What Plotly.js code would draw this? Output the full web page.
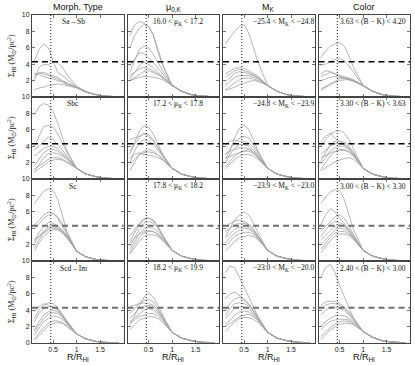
<!DOCTYPE html>
<html>
<head>
<meta charset="utf-8">
<script src="https://cdn.plot.ly/plotly-3.0.1.min.js"></script>
<style>
  body { margin: 0; background: #fff; }
  #chart { width: 415px; height: 365px; }
</style>
</head>
<body>
<div id="chart"></div>
<script>
// radius grid (R/R_HI) shared by all profiles
const xR = [0.1, 0.2, 0.3, 0.4, 0.5, 0.6, 0.7, 0.8, 1.0, 1.2, 1.4, 1.6, 1.9];

// column 1: morphological type
const typeSaSb = [
  [4.4, 5.8, 6.5, 6.0, 4.3, 3.0, 2.6, 2.1, 1.2, 0.6, 0.3, 0.12, 0.03],
  [2.0, 3.6, 4.0, 3.9, 4.3, 4.2, 3.6, 2.7, 1.3, 0.7, 0.3, 0.12, 0.03],
  [2.4, 3.0, 3.0, 2.8, 2.6, 2.4, 2.0, 1.7, 1.2, 0.6, 0.3, 0.1, 0.03],
  [2.7, 2.9, 2.8, 2.6, 2.4, 2.2, 1.9, 1.6, 1.2, 0.6, 0.3, 0.1, 0.03],
  [2.9, 2.7, 2.5, 2.3, 2.2, 2.0, 1.8, 1.5, 1.2, 0.6, 0.3, 0.1, 0.03],
  [0.9, 1.1, 1.2, 1.4, 1.5, 1.6, 1.5, 1.4, 1.1, 0.6, 0.3, 0.1, 0.03]
];
const typeSbc = [
  [7.8, 8.8, 9.2, 9.0, 8.2, 6.8, 5.0, 3.4, 1.3, 0.6, 0.3, 0.12, 0.03],
  [4.0, 5.2, 6.4, 6.5, 6.3, 5.5, 4.3, 3.2, 1.3, 0.6, 0.3, 0.12, 0.03],
  [3.6, 4.0, 4.6, 5.1, 4.8, 4.2, 3.5, 2.8, 1.3, 0.6, 0.3, 0.1, 0.03],
  [2.8, 3.3, 3.7, 4.0, 4.0, 3.7, 3.2, 2.6, 1.3, 0.6, 0.3, 0.1, 0.03],
  [1.6, 2.4, 3.2, 3.6, 3.6, 3.4, 3.0, 2.5, 1.3, 0.6, 0.3, 0.1, 0.03],
  [1.0, 1.8, 2.6, 3.1, 3.2, 3.1, 2.8, 2.4, 1.3, 0.6, 0.3, 0.1, 0.03],
  [1.2, 1.6, 2.0, 2.4, 2.6, 2.6, 2.4, 2.1, 1.3, 0.6, 0.3, 0.1, 0.03],
  [0.8, 1.2, 1.7, 2.1, 2.3, 2.4, 2.3, 2.0, 1.3, 0.6, 0.3, 0.1, 0.03]
];
const typeSc = [
  [7.0, 7.8, 8.5, 8.8, 8.6, 7.5, 5.5, 3.5, 1.2, 0.5, 0.2, 0.08, 0.02],
  [4.4, 5.0, 5.6, 6.0, 5.8, 5.2, 4.2, 3.2, 1.2, 0.5, 0.2, 0.08, 0.02],
  [3.9, 4.6, 5.2, 5.6, 5.8, 5.4, 4.5, 3.4, 1.2, 0.5, 0.2, 0.08, 0.02],
  [2.4, 3.5, 4.2, 4.7, 4.6, 4.3, 3.7, 3.0, 1.2, 0.5, 0.2, 0.08, 0.02],
  [2.2, 3.0, 3.7, 4.2, 4.4, 4.2, 3.7, 3.0, 1.2, 0.5, 0.2, 0.08, 0.02],
  [1.6, 2.6, 3.5, 4.0, 4.2, 4.0, 3.6, 2.9, 1.2, 0.5, 0.2, 0.08, 0.02],
  [2.6, 3.0, 3.4, 3.8, 4.0, 3.9, 3.5, 2.8, 1.2, 0.5, 0.2, 0.08, 0.02],
  [1.2, 2.2, 3.0, 3.5, 3.8, 3.8, 3.4, 2.8, 1.2, 0.5, 0.2, 0.08, 0.02]
];
const typeScdIm = [
  [3.0, 4.0, 4.6, 4.9, 4.8, 4.3, 3.5, 2.6, 1.1, 0.5, 0.2, 0.08, 0.02],
  [3.8, 4.4, 4.8, 4.6, 4.4, 4.0, 3.3, 2.5, 1.1, 0.5, 0.2, 0.08, 0.02],
  [2.6, 3.6, 4.2, 4.4, 4.4, 4.1, 3.4, 2.6, 1.1, 0.5, 0.2, 0.08, 0.02],
  [1.6, 2.6, 3.4, 3.8, 4.0, 3.8, 3.2, 2.5, 1.1, 0.5, 0.2, 0.08, 0.02],
  [1.4, 2.2, 3.0, 3.5, 3.7, 3.6, 3.1, 2.4, 1.1, 0.5, 0.2, 0.08, 0.02],
  [1.0, 1.8, 2.6, 3.0, 3.3, 3.2, 2.9, 2.3, 1.1, 0.5, 0.2, 0.08, 0.02],
  [0.5, 1.2, 1.9, 2.4, 2.7, 2.7, 2.5, 2.1, 1.1, 0.5, 0.2, 0.08, 0.02],
  [0.3, 0.9, 1.6, 2.1, 2.4, 2.5, 2.4, 2.0, 1.1, 0.5, 0.2, 0.08, 0.02]
];

// column 2: central K surface brightness
const mu1 = [
  [7.5, 8.8, 9.2, 9.0, 8.6, 7.5, 5.5, 3.8, 1.4, 0.7, 0.3, 0.12, 0.03],
  [6.0, 7.5, 8.4, 8.8, 8.6, 7.6, 5.8, 4.0, 1.4, 0.7, 0.3, 0.12, 0.03],
  [3.0, 4.5, 5.8, 6.2, 6.0, 5.2, 4.2, 3.2, 1.4, 0.7, 0.3, 0.12, 0.03],
  [3.8, 4.6, 5.4, 5.3, 4.8, 4.2, 3.5, 2.8, 1.4, 0.7, 0.3, 0.12, 0.03],
  [2.2, 3.0, 3.8, 4.3, 4.0, 3.6, 3.0, 2.5, 1.4, 0.7, 0.3, 0.12, 0.03],
  [2.6, 3.0, 3.4, 3.6, 3.5, 3.2, 2.8, 2.4, 1.4, 0.7, 0.3, 0.12, 0.03],
  [2.0, 2.4, 2.8, 3.1, 3.2, 3.0, 2.7, 2.3, 1.4, 0.7, 0.3, 0.12, 0.03],
  [2.0, 2.2, 2.4, 2.5, 2.5, 2.4, 2.3, 2.1, 1.4, 0.7, 0.3, 0.12, 0.03]
];
const mu2 = [
  [3.0, 4.4, 5.8, 6.5, 6.3, 5.5, 4.2, 3.0, 1.3, 0.6, 0.3, 0.1, 0.03],
  [4.8, 5.0, 5.2, 5.5, 5.4, 4.8, 3.9, 2.9, 1.3, 0.6, 0.3, 0.1, 0.03],
  [3.4, 4.2, 5.0, 5.6, 5.2, 4.6, 3.8, 2.9, 1.3, 0.6, 0.3, 0.1, 0.03],
  [2.0, 3.4, 4.4, 4.8, 4.6, 4.2, 3.5, 2.8, 1.3, 0.6, 0.3, 0.1, 0.03],
  [1.0, 2.0, 3.0, 3.4, 3.6, 3.4, 3.0, 2.5, 1.3, 0.6, 0.3, 0.1, 0.03],
  [1.8, 2.4, 3.0, 3.2, 3.3, 3.2, 2.9, 2.4, 1.3, 0.6, 0.3, 0.1, 0.03],
  [2.6, 3.0, 3.2, 3.0, 2.9, 2.8, 2.6, 2.3, 1.3, 0.6, 0.3, 0.1, 0.03]
];
const mu3 = [
  [3.0, 3.8, 4.6, 5.2, 5.3, 5.0, 4.2, 3.2, 1.3, 0.6, 0.3, 0.1, 0.03],
  [2.4, 3.4, 4.4, 5.0, 5.2, 4.9, 4.1, 3.1, 1.3, 0.6, 0.3, 0.1, 0.03],
  [1.8, 2.8, 3.8, 4.6, 4.8, 4.6, 4.0, 3.0, 1.3, 0.6, 0.3, 0.1, 0.03],
  [1.4, 2.4, 3.3, 3.9, 4.1, 4.0, 3.6, 2.9, 1.3, 0.6, 0.3, 0.1, 0.03],
  [1.0, 2.0, 2.8, 3.4, 3.6, 3.6, 3.3, 2.7, 1.3, 0.6, 0.3, 0.1, 0.03],
  [2.2, 2.8, 3.2, 3.6, 3.7, 3.6, 3.2, 2.6, 1.3, 0.6, 0.3, 0.1, 0.03],
  [0.8, 1.6, 2.4, 3.0, 3.2, 3.2, 3.0, 2.5, 1.3, 0.6, 0.3, 0.1, 0.03]
];
const mu4 = [
  [2.2, 3.4, 4.6, 5.6, 6.1, 5.6, 4.6, 3.4, 1.3, 0.6, 0.3, 0.1, 0.03],
  [3.6, 4.2, 4.8, 5.2, 5.3, 5.0, 4.2, 3.2, 1.3, 0.6, 0.3, 0.1, 0.03],
  [4.4, 4.6, 4.8, 4.9, 4.8, 4.6, 4.0, 3.1, 1.3, 0.6, 0.3, 0.1, 0.03],
  [3.0, 3.6, 4.2, 4.5, 4.6, 4.4, 3.8, 3.0, 1.3, 0.6, 0.3, 0.1, 0.03],
  [2.6, 3.0, 3.5, 4.0, 4.2, 4.0, 3.6, 2.9, 1.3, 0.6, 0.3, 0.1, 0.03],
  [2.4, 2.8, 3.2, 3.4, 3.6, 3.6, 3.3, 2.7, 1.3, 0.6, 0.3, 0.1, 0.03],
  [1.6, 2.2, 2.8, 3.0, 3.2, 3.2, 3.0, 2.5, 1.3, 0.6, 0.3, 0.1, 0.03]
];

// column 3: K absolute magnitude
const mk1 = [
  [6.5, 7.3, 8.0, 8.6, 8.8, 7.8, 6.0, 4.2, 1.4, 0.7, 0.3, 0.12, 0.03],
  [2.8, 3.2, 3.5, 3.6, 3.5, 3.2, 2.9, 2.5, 1.4, 0.7, 0.3, 0.12, 0.03],
  [2.4, 2.8, 3.2, 3.4, 3.2, 3.0, 2.7, 2.4, 1.4, 0.7, 0.3, 0.12, 0.03],
  [1.8, 2.4, 2.9, 3.1, 3.0, 2.8, 2.6, 2.3, 1.4, 0.7, 0.3, 0.12, 0.03],
  [1.4, 1.9, 2.4, 2.6, 2.6, 2.6, 2.4, 2.2, 1.4, 0.7, 0.3, 0.12, 0.03],
  [0.9, 1.3, 1.8, 2.1, 2.3, 2.3, 2.2, 2.0, 1.4, 0.7, 0.3, 0.12, 0.03],
  [0.8, 1.0, 1.2, 1.5, 1.7, 1.9, 2.0, 1.9, 1.4, 0.7, 0.3, 0.12, 0.03]
];
const mk2 = [
  [2.4, 3.5, 5.0, 6.2, 6.6, 6.0, 4.8, 3.4, 1.3, 0.6, 0.3, 0.1, 0.03],
  [3.0, 3.6, 4.4, 5.0, 5.2, 5.0, 4.2, 3.2, 1.3, 0.6, 0.3, 0.1, 0.03],
  [4.2, 4.6, 4.8, 4.6, 4.6, 4.4, 3.8, 3.0, 1.3, 0.6, 0.3, 0.1, 0.03],
  [2.0, 3.0, 3.8, 4.2, 4.2, 4.0, 3.5, 2.8, 1.3, 0.6, 0.3, 0.1, 0.03],
  [3.0, 3.4, 3.6, 3.8, 3.8, 3.7, 3.3, 2.7, 1.3, 0.6, 0.3, 0.1, 0.03],
  [1.5, 2.2, 2.8, 3.2, 3.4, 3.4, 3.1, 2.6, 1.3, 0.6, 0.3, 0.1, 0.03],
  [1.2, 1.8, 2.4, 2.8, 3.0, 3.0, 2.8, 2.4, 1.3, 0.6, 0.3, 0.1, 0.03],
  [2.6, 2.8, 3.0, 3.2, 3.4, 3.6, 3.2, 2.6, 1.3, 0.6, 0.3, 0.1, 0.03]
];
const mk3 = [
  [3.0, 4.0, 5.0, 5.6, 6.0, 5.6, 4.6, 3.4, 1.3, 0.6, 0.3, 0.1, 0.03],
  [4.2, 4.6, 4.9, 5.0, 4.8, 4.5, 3.9, 3.0, 1.3, 0.6, 0.3, 0.1, 0.03],
  [3.6, 4.0, 4.4, 4.6, 4.6, 4.4, 3.8, 3.0, 1.3, 0.6, 0.3, 0.1, 0.03],
  [2.8, 3.4, 3.9, 4.1, 4.3, 4.1, 3.6, 2.9, 1.3, 0.6, 0.3, 0.1, 0.03],
  [2.2, 2.9, 3.4, 3.8, 4.0, 3.9, 3.5, 2.8, 1.3, 0.6, 0.3, 0.1, 0.03],
  [1.8, 2.4, 3.0, 3.3, 3.5, 3.5, 3.3, 2.7, 1.3, 0.6, 0.3, 0.1, 0.03],
  [1.2, 1.8, 2.4, 2.8, 3.0, 3.1, 3.0, 2.6, 1.3, 0.6, 0.3, 0.1, 0.03]
];
const mk4 = [
  [8.6, 9.4, 9.2, 8.0, 6.8, 5.4, 4.2, 3.2, 1.3, 0.6, 0.3, 0.1, 0.03],
  [5.4, 6.0, 6.2, 5.8, 5.4, 4.8, 4.0, 3.1, 1.3, 0.6, 0.3, 0.1, 0.03],
  [4.0, 4.8, 5.4, 5.6, 5.2, 4.7, 3.9, 3.0, 1.3, 0.6, 0.3, 0.1, 0.03],
  [3.4, 4.2, 4.8, 4.9, 4.8, 4.5, 3.8, 3.0, 1.3, 0.6, 0.3, 0.1, 0.03],
  [3.0, 3.6, 4.2, 4.4, 4.4, 4.2, 3.6, 2.9, 1.3, 0.6, 0.3, 0.1, 0.03],
  [2.2, 2.8, 3.4, 3.8, 3.9, 3.8, 3.4, 2.8, 1.3, 0.6, 0.3, 0.1, 0.03],
  [2.0, 2.4, 2.8, 3.2, 3.4, 3.5, 3.2, 2.7, 1.3, 0.6, 0.3, 0.1, 0.03],
  [1.4, 2.0, 2.6, 3.0, 3.1, 3.1, 2.9, 2.5, 1.3, 0.6, 0.3, 0.1, 0.03]
];

// column 4: B-K colour
const bk1 = [
  [4.8, 5.6, 6.2, 6.5, 6.6, 6.2, 5.0, 3.6, 1.4, 0.7, 0.3, 0.12, 0.03],
  [3.9, 4.0, 4.3, 4.6, 4.7, 4.4, 3.8, 3.0, 1.4, 0.7, 0.3, 0.12, 0.03],
  [2.8, 3.2, 3.1, 2.8, 2.6, 2.5, 2.3, 2.1, 1.4, 0.7, 0.3, 0.12, 0.03],
  [2.5, 2.8, 3.0, 2.8, 2.5, 2.3, 2.2, 2.0, 1.4, 0.7, 0.3, 0.12, 0.03],
  [2.0, 2.2, 2.4, 2.5, 2.4, 2.3, 2.1, 1.9, 1.4, 0.7, 0.3, 0.12, 0.03],
  [1.0, 1.3, 1.7, 2.0, 2.2, 2.3, 2.2, 2.0, 1.4, 0.7, 0.3, 0.12, 0.03],
  [0.8, 1.2, 1.5, 1.8, 2.0, 2.1, 2.1, 1.9, 1.4, 0.7, 0.3, 0.12, 0.03]
];
const bk2 = [
  [4.0, 4.8, 5.4, 5.8, 5.9, 5.6, 4.8, 3.6, 1.3, 0.6, 0.3, 0.1, 0.03],
  [4.5, 5.2, 5.6, 5.0, 4.6, 4.2, 3.6, 2.9, 1.3, 0.6, 0.3, 0.1, 0.03],
  [2.2, 3.2, 4.2, 4.6, 4.6, 4.5, 4.0, 3.2, 1.3, 0.6, 0.3, 0.1, 0.03],
  [3.0, 3.5, 4.0, 4.3, 4.3, 4.2, 3.8, 3.1, 1.3, 0.6, 0.3, 0.1, 0.03],
  [1.8, 2.6, 3.4, 3.8, 4.0, 4.0, 3.6, 3.0, 1.3, 0.6, 0.3, 0.1, 0.03],
  [1.2, 2.0, 2.8, 3.3, 3.6, 3.6, 3.3, 2.8, 1.3, 0.6, 0.3, 0.1, 0.03],
  [1.0, 1.4, 1.8, 2.1, 2.3, 2.5, 2.6, 2.4, 1.3, 0.6, 0.3, 0.1, 0.03],
  [2.6, 2.9, 3.2, 3.4, 3.5, 3.5, 3.3, 2.8, 1.3, 0.6, 0.3, 0.1, 0.03]
];
const bk3 = [
  [7.0, 7.8, 8.4, 8.7, 8.6, 7.5, 5.6, 3.8, 1.3, 0.6, 0.3, 0.1, 0.03],
  [4.4, 5.6, 6.4, 6.0, 5.2, 4.6, 3.8, 3.0, 1.3, 0.6, 0.3, 0.1, 0.03],
  [3.6, 4.2, 4.8, 5.4, 5.6, 5.2, 4.3, 3.2, 1.3, 0.6, 0.3, 0.1, 0.03],
  [3.0, 3.8, 4.5, 4.8, 4.7, 4.4, 3.8, 3.0, 1.3, 0.6, 0.3, 0.1, 0.03],
  [2.6, 3.2, 3.7, 4.2, 4.4, 4.2, 3.7, 2.9, 1.3, 0.6, 0.3, 0.1, 0.03],
  [2.0, 2.6, 3.2, 3.8, 4.0, 3.9, 3.5, 2.8, 1.3, 0.6, 0.3, 0.1, 0.03],
  [1.4, 2.2, 2.9, 3.4, 3.6, 3.6, 3.3, 2.7, 1.3, 0.6, 0.3, 0.1, 0.03],
  [1.0, 1.8, 2.5, 3.0, 3.3, 3.3, 3.1, 2.6, 1.3, 0.6, 0.3, 0.1, 0.03]
];
const bk4 = [
  [8.0, 9.2, 9.6, 8.6, 7.0, 5.6, 4.2, 3.0, 1.4, 0.7, 0.3, 0.12, 0.03],
  [4.6, 5.0, 5.1, 5.1, 4.8, 4.4, 3.8, 3.0, 1.4, 0.7, 0.3, 0.12, 0.03],
  [4.2, 4.6, 4.8, 4.8, 4.6, 4.3, 3.6, 2.9, 1.4, 0.7, 0.3, 0.12, 0.03],
  [3.4, 4.0, 4.4, 4.4, 4.2, 4.0, 3.4, 2.8, 1.4, 0.7, 0.3, 0.12, 0.03],
  [2.0, 2.6, 3.0, 3.3, 3.4, 3.3, 3.0, 2.6, 1.4, 0.7, 0.3, 0.12, 0.03],
  [1.6, 2.2, 2.6, 2.8, 2.9, 2.9, 2.8, 2.4, 1.4, 0.7, 0.3, 0.12, 0.03],
  [0.8, 1.4, 1.9, 2.3, 2.6, 2.7, 2.6, 2.3, 1.4, 0.7, 0.3, 0.12, 0.03],
  [0.4, 1.0, 1.6, 2.0, 2.3, 2.4, 2.4, 2.2, 1.4, 0.7, 0.3, 0.12, 0.03]
];

const colTitles = ['Morph. Type', 'μ<sub>0,K</sub>', 'M<sub>K</sub>', 'Color'];
const typeLabels = ['Sa – Sb', 'Sbc', 'Sc', 'Scd – Im'];
const muLabels = ['16.0 &lt; μ<sub>K</sub> &lt; 17.2', '17.2 &lt; μ<sub>K</sub> &lt; 17.8',
                  '17.8 &lt; μ<sub>K</sub> &lt; 18.2', '18.2 &lt; μ<sub>K</sub> &lt; 19.9'];
const mkLabels = ['−25.4 &lt; M<sub>K</sub> &lt; −24.8', '−24.8 &lt; M<sub>K</sub> &lt; −23.9',
                  '−23.9 &lt; M<sub>K</sub> &lt; −23.0', '−23.0 &lt; M<sub>K</sub> &lt; −20.0'];
const bkLabels = ['3.63 &lt; (B − K) &lt; 4.20', '3.30 &lt; (B − K) &lt; 3.63',
                  '3.00 &lt; (B − K) &lt; 3.30', '2.40 &lt; (B − K) &lt; 3.00'];

const yTicks = [0, 2, 4, 6, 8, 10];
const xTicks = [0.5, 1, 1.5];
const sigmaRef = 4.3;   // dashed line
const rRef = 0.45;      // dotted line

const panels = [
  [typeSaSb, mu1, mk1, bk1],
  [typeSbc, mu2, mk2, bk2],
  [typeSc, mu3, mk3, bk3],
  [typeScdIm, mu4, mk4, bk4]
];
const labels = [typeLabels, muLabels, mkLabels, bkLabels];

// pixel layout of the grid
const W = 415, H = 365;
const colPx = [[32, 123.5], [127.5, 219], [223, 314.5], [318.5, 410]];
const rowPx = [[15, 97], [97, 179], [179, 261], [261, 343]];
const labelX = [73, 178, 283, 373];

const data = [];
const layout = {
  width: W, height: H,
  margin: {l: 0, r: 0, t: 0, b: 0},
  paper_bgcolor: '#fff', plot_bgcolor: '#fff',
  showlegend: false,
  shapes: [],
  annotations: []
};

const serif = 'Liberation Serif';
const sans = 'Liberation Sans';

for (let r = 0; r < 4; r++) {
  for (let c = 0; c < 4; c++) {
    const k = r * 4 + c + 1;
    const xa = 'x' + k, ya = 'y' + k;
    const xKey = 'xaxis' + (k === 1 ? '' : k);
    const yKey = 'yaxis' + (k === 1 ? '' : k);

    layout[xKey] = {
      domain: [colPx[c][0] / W, colPx[c][1] / W],
      anchor: ya, range: [0.05, 2.0],
      tickvals: xTicks, ticktext: ['0.5', '1', '1.5'],
      showticklabels: r === 3,
      ticks: 'inside', ticklen: 3, tickcolor: '#555', tickwidth: 0.8,
      mirror: 'ticks', showline: true, linecolor: '#444', linewidth: 1,
      showgrid: false, zeroline: false,
      tickfont: {family: sans, size: 7, color: '#222'}
    };
    layout[yKey] = {
      domain: [1 - rowPx[r][1] / H, 1 - rowPx[r][0] / H],
      anchor: xa, range: [0, 10],
      tickvals: yTicks,
      ticktext: r === 3 ? ['0', '2', '4', '6', '8', '10'] : [' ', '2', '4', '6', '8', '10'],
      showticklabels: c === 0,
      ticks: 'inside', ticklen: 3, tickcolor: '#555', tickwidth: 0.8,
      mirror: 'ticks', showline: true, linecolor: '#444', linewidth: 1,
      showgrid: false, zeroline: false,
      tickfont: {family: sans, size: 7, color: '#222'}
    };

    panels[r][c].forEach(ys => {
      data.push({
        x: xR, y: ys, xaxis: xa, yaxis: ya,
        type: 'scatter', mode: 'lines',
        line: {color: '#a3a3a3', width: 0.8},
        hoverinfo: 'skip'
      });
    });

    const lower = r >= 2;
    layout.shapes.push({
      type: 'line', xref: xa + ' domain', yref: ya,
      x0: 0, x1: 1, y0: sigmaRef, y1: sigmaRef,
      line: {color: lower ? '#707070' : '#000', width: lower ? 1.8 : 1.3, dash: '6px,4px'}
    });
    layout.shapes.push({
      type: 'line', xref: xa, yref: ya + ' domain',
      x0: rRef, x1: rRef, y0: 0, y1: 1,
      line: {color: '#000', width: 0.9, dash: '1px,2px'}
    });

    layout.annotations.push({
      text: labels[c][r], xref: 'paper', yref: 'paper',
      x: labelX[c] / W, y: 1 - (rowPx[r][0] + 7) / H,
      xanchor: 'center', yanchor: 'middle', showarrow: false,
      font: {family: serif, size: 7.5, color: '#111'}
    });
  }
}

// column titles and x titles
for (let c = 0; c < 4; c++) {
  const cx = (colPx[c][0] + colPx[c][1]) / 2 / W;
  layout.annotations.push({
    text: colTitles[c], xref: 'paper', yref: 'paper',
    x: cx, y: 1 - 7 / H, xanchor: 'center', yanchor: 'middle', showarrow: false,
    font: {family: sans, size: 9, color: '#111'}
  });
  layout.annotations.push({
    text: 'R/R<sub>HI</sub>', xref: 'paper', yref: 'paper',
    x: cx, y: 1 - 357 / H, xanchor: 'center', yanchor: 'middle', showarrow: false,
    font: {family: sans, size: 9, color: '#111'}
  });
}

// y titles
for (let r = 0; r < 4; r++) {
  layout.annotations.push({
    text: 'Σ<sub>HI</sub> (M<sub>⊙</sub>/pc<sup>2</sup>)', xref: 'paper', yref: 'paper',
    x: 11 / W, y: 1 - (rowPx[r][0] + rowPx[r][1]) / 2 / H,
    xanchor: 'center', yanchor: 'middle', textangle: -90, showarrow: false,
    font: {family: serif, size: 8, color: '#222'}
  });
}

Plotly.newPlot('chart', data, layout, {displayModeBar: false, staticPlot: true});
</script>
</body>
</html>
